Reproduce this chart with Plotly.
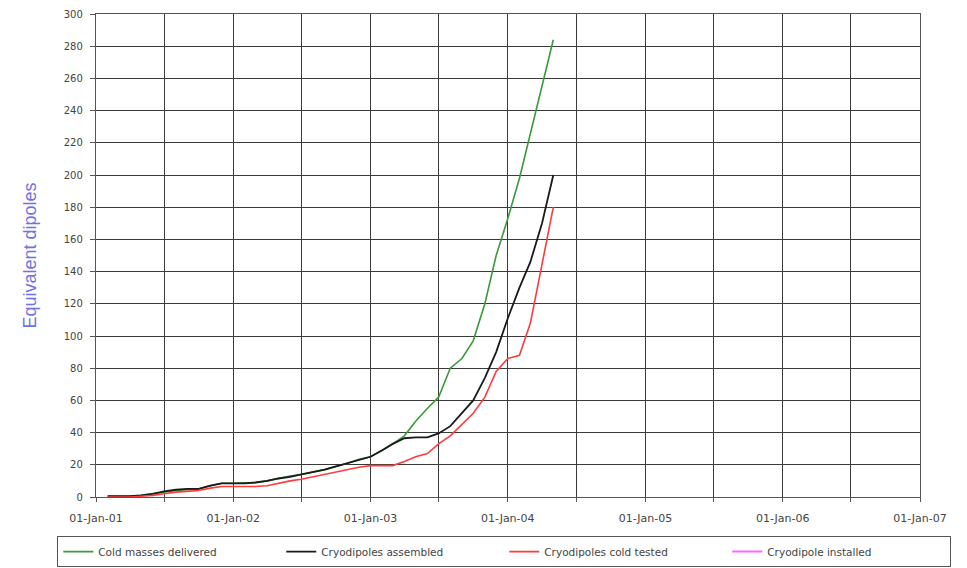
import plotly.graph_objects as go

# Monthly reporting dates
months = [
    "2001-02-01", "2001-03-01", "2001-04-01", "2001-05-01", "2001-06-01", "2001-07-01",
    "2001-08-01", "2001-09-01", "2001-10-01", "2001-11-01", "2001-12-01",
    "2002-01-01", "2002-02-01", "2002-03-01", "2002-04-01", "2002-05-01", "2002-06-01",
    "2002-07-01", "2002-08-01", "2002-09-01", "2002-10-01", "2002-11-01", "2002-12-01",
    "2003-01-01", "2003-02-01", "2003-03-01", "2003-04-01", "2003-05-01", "2003-06-01",
    "2003-07-01", "2003-08-01", "2003-09-01", "2003-10-01", "2003-11-01", "2003-12-01",
    "2004-01-01", "2004-02-01", "2004-03-01", "2004-04-01", "2004-05-01",
]

cold_masses_delivered = [
    0.5, 0.5, 0.5, 1, 2, 3, 4, 4.5, 5, 7, 8.5,
    8.5, 9, 9, 10, 11.5, 13, 14, 15.5, 17, 19, 21, 23.5,
    25, 29, 33, 38, 47, 55, 62, 80, 86, 97, 120, 150,
    173, 198, 226, 255, 284,
]

cryodipoles_assembled = [
    0.5, 0.5, 0.5, 1, 2, 3.5, 4.5, 5, 5, 7, 8.5,
    8.5, 8.5, 9, 10, 11.5, 12.5, 14, 15.5, 17, 19, 21, 23,
    25, 29, 33, 36.5, 37, 37, 39.5, 44, 52, 60, 74, 90,
    111, 130, 146, 170, 200,
]

cryodipoles_cold_tested = [
    0, 0, 0, 0.5, 1, 2, 3, 3.5, 4, 5.5, 6.5,
    6.5, 6.5, 6.5, 7, 8.5, 10, 11, 12.5, 14, 15.5, 17, 18.5,
    19.5, 19.5, 19.5, 22, 25, 27, 33, 38, 45, 52, 62, 78,
    86, 88, 108, 145, 180,
]

cryodipoles_installed = [None] * len(months)

year_ticks = ["2001-01-01", "2002-01-01", "2003-01-01", "2004-01-01",
              "2005-01-01", "2006-01-01", "2007-01-01"]
year_labels = ["01-Jan-01", "01-Jan-02", "01-Jan-03", "01-Jan-04",
               "01-Jan-05", "01-Jan-06", "01-Jan-07"]

series = [
    ("Cold masses delivered", cold_masses_delivered, "#3a9a3a", 1.6),
    ("Cryodipoles assembled", cryodipoles_assembled, "#1a1a1a", 1.8),
    ("Cryodipoles cold tested", cryodipoles_cold_tested, "#ff3b3b", 1.6),
    ("Cryodipole installed", cryodipoles_installed, "#ff66ff", 2),
]

fig = go.Figure()
for name, values, color, width in series:
    fig.add_trace(go.Scatter(
        x=months, y=values, name=name, mode="lines",
        line=dict(color=color, width=width),
    ))

grid_color = "#3a3a3a"
label_font = "DejaVu Sans, Verdana, sans-serif"
fig.update_layout(
    width=967, height=568,
    margin=dict(l=96, r=47, t=14, b=71, autoexpand=False),
    paper_bgcolor="white", plot_bgcolor="white",
    font=dict(family=label_font, size=10, color="#444"),
    showlegend=True,
    legend=dict(
        orientation="h",
        x=-0.047, xanchor="left",
        y=-0.081, yanchor="top",
        bordercolor="#555", borderwidth=1,
        font=dict(family=label_font, size=10.5, color="#444"),
        entrywidth=178, entrywidthmode="pixels",
        itemwidth=30,
        tracegroupgap=0,
    ),
    xaxis=dict(
        type="date",
        range=["2001-01-01", "2007-01-01"],
        tickmode="array", tickvals=year_ticks, ticktext=year_labels,
        showgrid=True, gridcolor=grid_color, gridwidth=1.4,
        minor=dict(dtick="M6", tick0="2001-01-01", showgrid=True,
                   gridcolor=grid_color, gridwidth=1.4,
                   ticks="outside", ticklen=4, tickcolor="#555"),
        ticks="outside", ticklen=4, tickcolor="#555",
        ticklabelstandoff=7,
        showline=True, linecolor="#555", linewidth=1.4, mirror=True,
        zeroline=False,
        tickfont=dict(family=label_font, size=11, color="#444"),
    ),
    yaxis=dict(
        range=[0, 300], dtick=20, tick0=0,
        showgrid=True, gridcolor=grid_color, gridwidth=1.4,
        ticks="outside", ticklen=5, tickcolor="#555",
        ticklabelstandoff=5,
        showline=True, linecolor="#555", linewidth=1.4, mirror=True,
        zeroline=False,
        tickfont=dict(family=label_font, size=10, color="#444"),
        title=dict(text="Equivalent dipoles", standoff=22,
                   font=dict(family="Liberation Sans, Arial, sans-serif",
                             size=18, color="#7070e8")),
    ),
)

fig.write_html("out.html")
